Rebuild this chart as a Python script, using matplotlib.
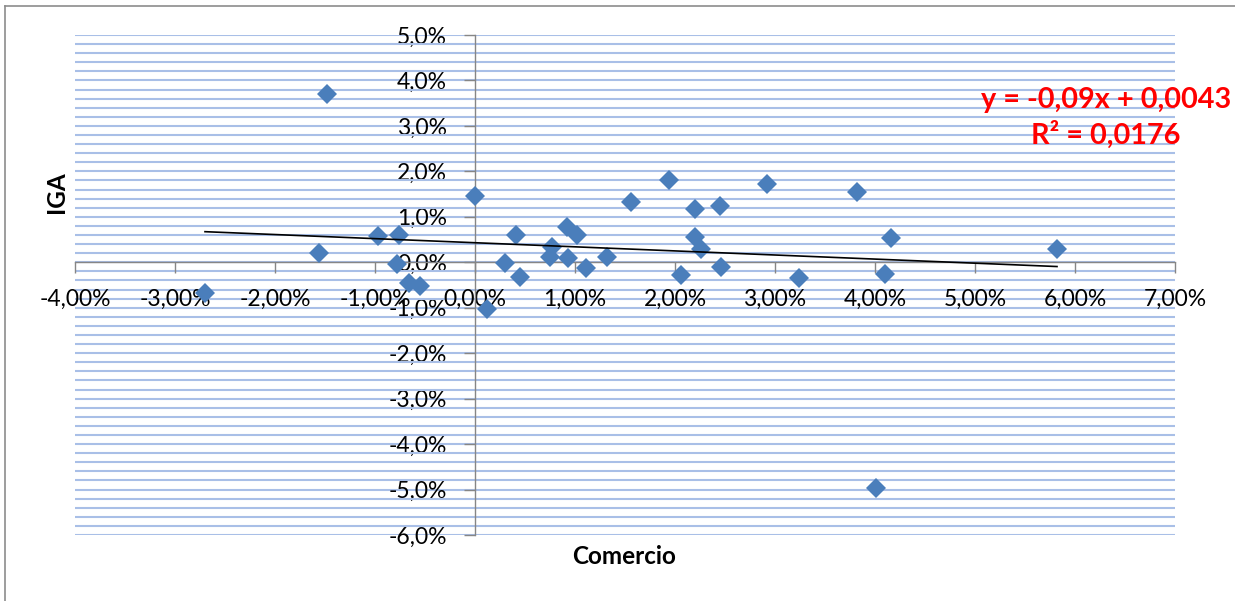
import matplotlib
matplotlib.use("Agg")
import matplotlib.pyplot as plt
from matplotlib.ticker import MultipleLocator, FuncFormatter
from matplotlib.lines import Line2D

plt.rcParams['font.family'] = ['Lato', 'DejaVu Sans']

# Data (fractions)
comercio = [-0.0270, -0.0148, -0.0156, -0.0097, -0.0076, -0.0078, -0.0066, -0.0055,
            0.0000, 0.0012, 0.0030, 0.0041, 0.0045, 0.0075, 0.0077, 0.0092,
            0.0102, 0.0093, 0.0111, 0.0132, 0.0156, 0.0194, 0.0206, 0.0220,
            0.0220, 0.0226, 0.0245, 0.0246, 0.0292, 0.0324, 0.0382, 0.0416,
            0.0410, 0.0401, 0.0582]
iga = [-0.0068, 0.0370, 0.0020, 0.0058, 0.0060, -0.0004, -0.0046, -0.0052,
       0.0146, -0.0103, -0.0002, 0.0059, -0.0032, 0.0012, 0.0034, 0.0078,
       0.0060, 0.0009, -0.0013, 0.0011, 0.0133, 0.0181, -0.0029, 0.0117,
       0.0055, 0.0029, 0.0124, -0.0010, 0.0172, -0.0035, 0.0155, 0.0053,
       -0.0026, -0.0496, 0.0029]

slope = -0.09
intercept = 0.0043
eq_text = "y = -0,09x + 0,0043"
r2_text = "R² = 0,0176"
x_label = "Comercio"
y_label = "IGA"

W, H = 1235, 601
fig = plt.figure(figsize=(W / 100, H / 100), dpi=100)
ax = fig.add_axes([75 / W, 1 - 535 / H, 1100 / W, 500 / H])

ax.set_xlim(-0.04, 0.07)
ax.set_ylim(-0.06, 0.05)

axis_col = '#868686'
for s in ['top', 'right']:
    ax.spines[s].set_visible(False)
ax.spines['left'].set_position(('data', 0))
ax.spines['bottom'].set_position(('data', 0))
for s in ['left', 'bottom']:
    ax.spines[s].set_color(axis_col)
    ax.spines[s].set_linewidth(1.0)
    ax.spines[s].set_zorder(2)

ax.xaxis.set_major_locator(MultipleLocator(0.01))
ax.yaxis.set_major_locator(MultipleLocator(0.01))
ax.yaxis.set_minor_locator(MultipleLocator(0.002))
ax.xaxis.set_major_formatter(FuncFormatter(lambda v, p: f"{v*100:.2f}%".replace('.', ',').replace('-0,00', '0,00')))
ax.yaxis.set_major_formatter(FuncFormatter(lambda v, p: f"{v*100:.1f}%".replace('.', ',').replace('-0,0', '0,0')))

ax.tick_params(axis='x', which='major', direction='out', length=8, width=1, color=axis_col,
               labelsize=16.5, pad=11, labelcolor='black')
ax.tick_params(axis='y', which='major', direction='out', length=8, width=1, color=axis_col,
               labelsize=16.5, pad=12, labelcolor='black')
ax.tick_params(axis='y', which='minor', length=0)

ax.grid(axis='y', which='both', color='#a9bfe7', linewidth=1.5)
ax.yaxis.set_zorder(0.5)
ax.xaxis.set_zorder(1.5)

ax.plot(comercio, iga, linestyle='none', marker='D', markersize=9.8,
        color='#4a7ebb', markeredgewidth=0, zorder=3)

xmin, xmax = min(comercio), max(comercio)
ax.plot([xmin, xmax], [slope * xmin + intercept, slope * xmax + intercept],
        color='black', linewidth=1.2, zorder=4)

fig.text(57 / W, 1 - 192 / H, y_label, rotation=90, ha='center', va='center',
         fontsize=17.5, fontweight='bold')
fig.text(624 / W, 1 - 556 / H, x_label, ha='center', va='center',
         fontsize=17.5, fontweight='bold')
fig.text(1106 / W, 1 - 100 / H, eq_text, ha='center', va='center',
         fontsize=20.8, fontweight='bold', color='#ff0000')
fig.text(1106 / W, 1 - 135 / H, r2_text, ha='center', va='center',
         fontsize=20.8, fontweight='bold', color='#ff0000')

# chart area border (extends beyond right/bottom edge)
fig.add_artist(Line2D([4.5 / W, 4.5 / W], [0, 1 - 6 / H], color='#8c8c8c', linewidth=1.2))
fig.add_artist(Line2D([4.5 / W, 1], [1 - 6 / H, 1 - 6 / H], color='#8c8c8c', linewidth=1.2))

fig.savefig('out.png', dpi=100)
